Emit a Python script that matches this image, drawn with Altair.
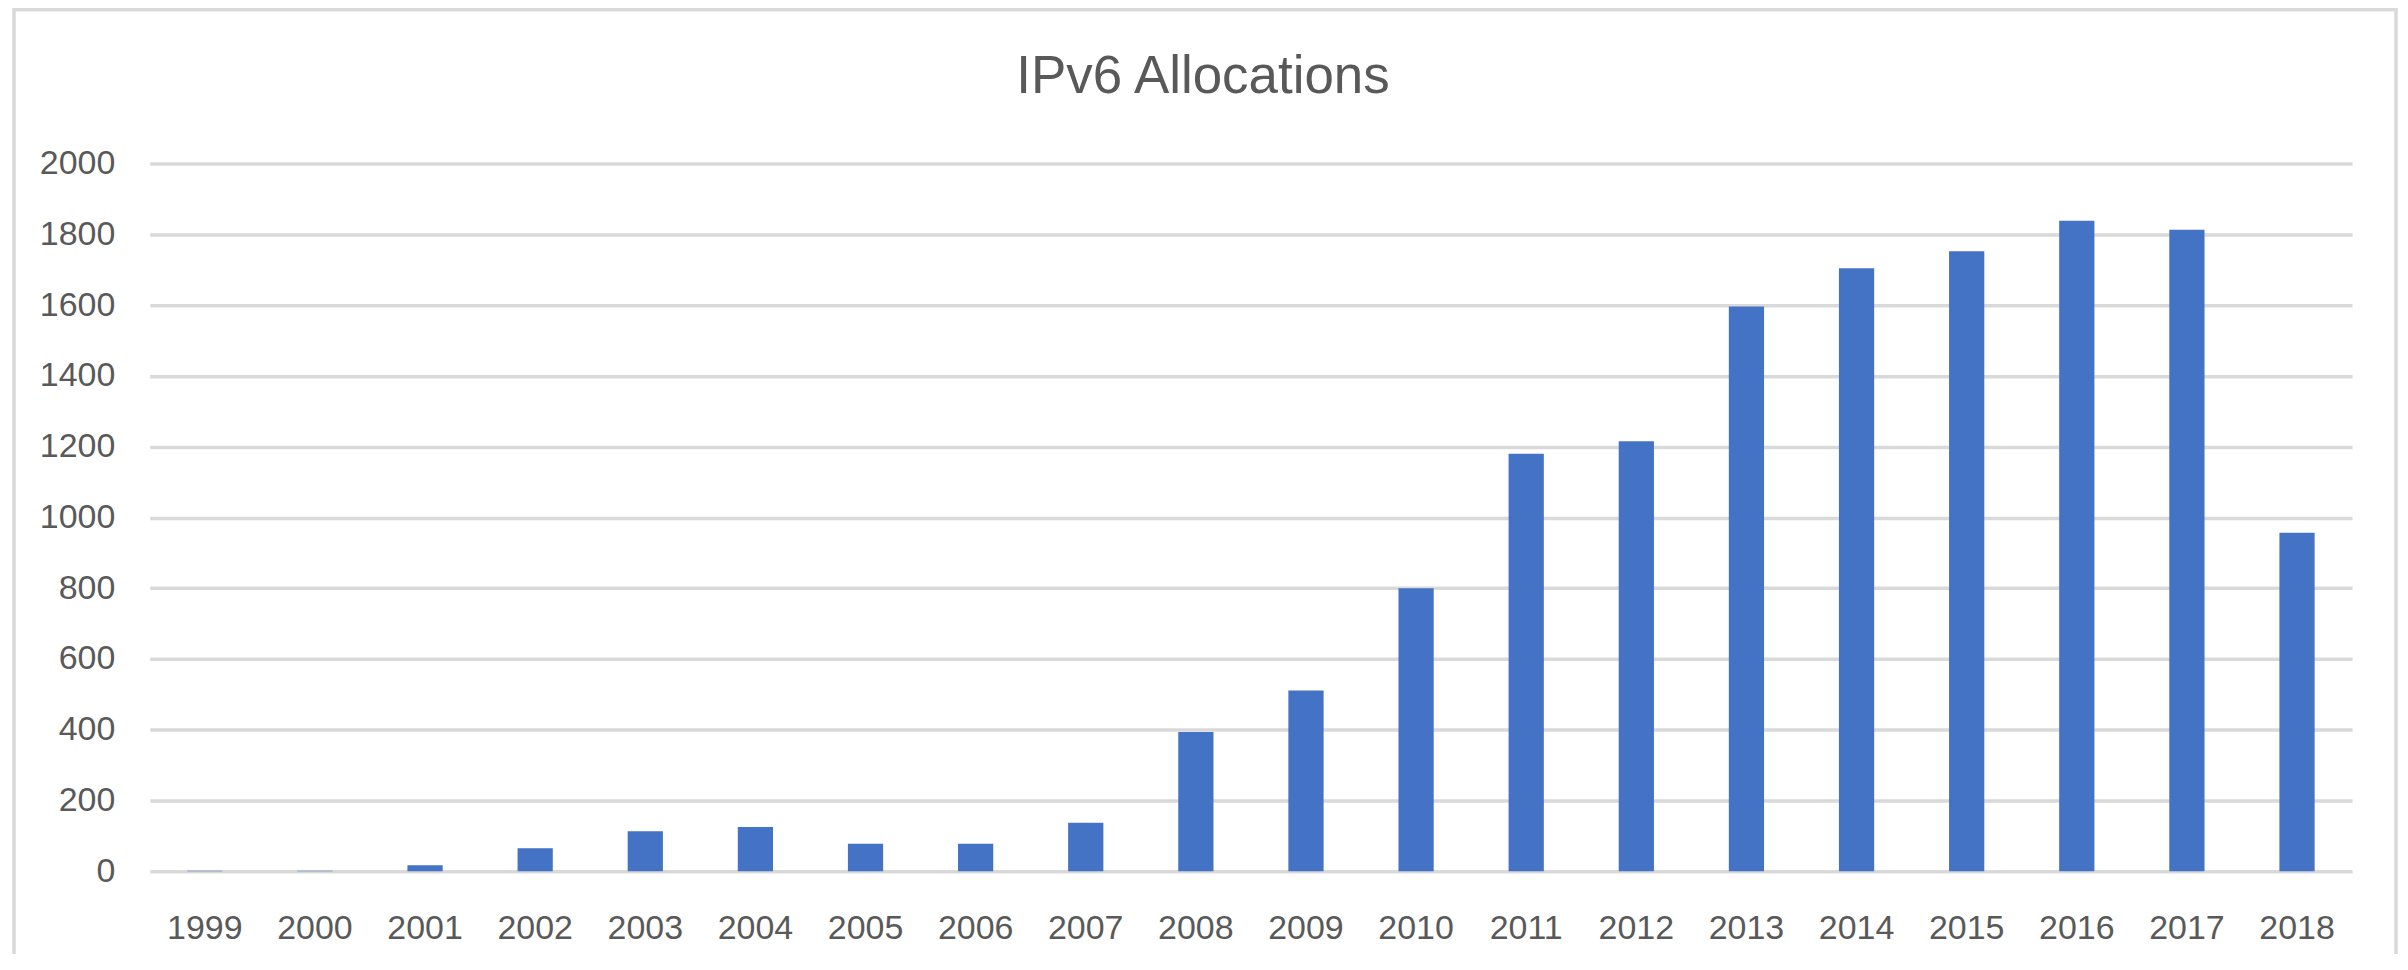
import altair as alt
import pandas as pd

years = ["1999", "2000", "2001", "2002", "2003", "2004", "2005", "2006", "2007", "2008",
         "2009", "2010", "2011", "2012", "2013", "2014", "2015", "2016", "2017", "2018"]
allocations = [2, 2, 17, 65, 113, 125, 78, 78, 137, 394,
               511, 800, 1180, 1215, 1596, 1704, 1752, 1838, 1813, 957]
y_ticks = [0, 200, 400, 600, 800, 1000, 1200, 1400, 1600, 1800, 2000]
title_text = ["IPv6 Allocations"]

df = pd.DataFrame({"Year": years, "Allocations": allocations})

FONT = "Liberation Sans"
GREY = "#595959"
GRID = "#d9d9d9"

bars = alt.Chart(df).mark_bar(color="#4472C4").encode(
    x=alt.X("Year:N", sort=years, title=None,
            scale=alt.Scale(paddingInner=0.68, paddingOuter=0.34),
            axis=alt.Axis(labelAngle=0, labelFont=FONT, labelFontSize=34, labelColor=GREY,
                          labelPadding=40, ticks=False, tickSize=0, domain=False, grid=False)),
    y=alt.Y("Allocations:Q", title=None,
            scale=alt.Scale(domain=[0, 2000], nice=False),
            axis=alt.Axis(values=y_ticks, format="d", labelFont=FONT, labelFontSize=34,
                          labelColor=GREY, labelPadding=35, ticks=False, tickSize=0,
                          domain=False, grid=True, gridColor=GRID, gridWidth=3.5)),
)

border = alt.Chart(pd.DataFrame({"b": [0]})).mark_rect(
    fill="white", fillOpacity=0, stroke=GRID, strokeWidth=3.5
).encode(
    x=alt.value(-136), x2=alt.value(2250), y=alt.value(-154), y2=alt.value(900)
)

title = alt.Chart(pd.DataFrame({"t": title_text})).mark_text(
    font=FONT, fontSize=53, color=GREY, align="center", baseline="alphabetic"
).encode(
    text="t:N", x=alt.value(1055), y=alt.value(-71)
)

chart = alt.layer(border, bars, title).properties(
    width=2206,
    height=709,
    autosize=alt.AutoSizeParams(type="none"),
    padding={"left": 142, "top": 155, "right": 48, "bottom": 82},
    background="white",
).configure_view(stroke=None)

chart.save("out.html", embed_options={"renderer": "svg", "actions": False})
